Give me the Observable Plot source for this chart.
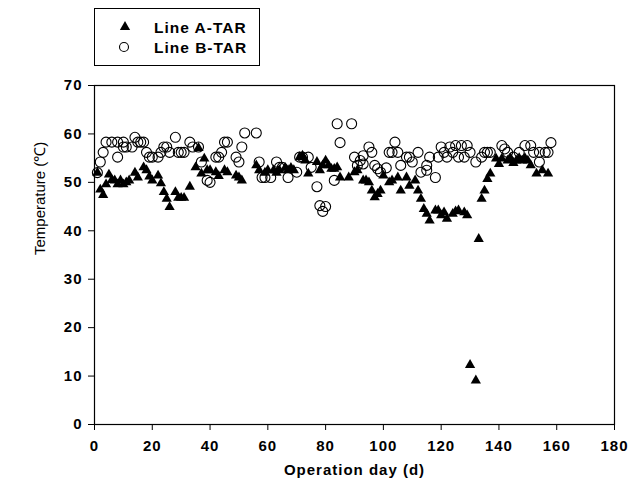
<!DOCTYPE html>
<html><head><meta charset="utf-8">
<script src="https://cdn.jsdelivr.net/npm/d3@7"></script>
<script src="https://cdn.jsdelivr.net/npm/@observablehq/plot@0.6"></script>
<style>
body{margin:0;background:#fff;font-family:"Liberation Sans",Arial,sans-serif}
#wrap{position:relative;width:644px;height:489px}
#legend{position:absolute;left:94px;top:8px}
</style></head><body><div id="wrap"><div id="legend"></div></div>
<script>
const seriesNames = ["Line A-TAR", "Line B-TAR"];
const xTicks = [0, 20, 40, 60, 80, 100, 120, 140, 160, 180];
const yTicks = [0, 10, 20, 30, 40, 50, 60, 70];
const xTitle = "Operation day (d)";
const yTitle = "Temperature (\u2103)";

const daysA = [1,2,3,4,5,6,7,8,9,10,11,12,14,15,17,18,19,20,22,23,24,25,26,28,29,30,31,33,35,36,37,38,39,40,42,43,45,46,49,50,51,56,57,59,60,62,63,64,66,67,68,69,71,72,73,74,77,78,79,80,81,82,83,84,85,88,90,91,93,94,95,96,97,98,99,100,102,103,105,106,108,109,111,112,113,114,115,116,118,119,120,121,122,124,125,126,128,129,130,132,133,134,135,136,137,139,140,141,143,144,145,146,147,148,149,150,151,153,155,157];
const tempA = [52,48.5,47.4,49.6,51.6,50.5,50.4,49.6,50.4,49.6,50,50.4,52,51,53.1,52.5,51.2,50.4,51.4,49.8,48,46.6,44.9,48,46.8,46.8,46.8,49.1,53.1,57.1,51.8,54.9,52.5,52.5,52.1,51.3,52.5,52.1,51.4,51,50.4,53.5,52.5,52,52.5,52.5,52,52.5,53,52.5,53,52.5,55.2,55.5,54.5,51.8,54.2,52.5,53.5,54.5,53.5,52.8,52.8,53.1,51,51,52.1,52.5,50.4,50.4,50,48.3,46.9,47.6,48.3,51.4,50,50.4,51,48.3,51,49.3,50.4,48.3,46.6,44.5,43.5,42.1,44.2,44.2,43.2,43.8,42.5,43.5,44,44.2,43.8,43.2,12.3,9.1,38.3,46.6,48.3,50.7,51.8,54.9,53.8,54.9,54.5,55,54,54.5,55,54.5,55,54.5,53.5,51.8,52.5,51.8];

const daysB = [1,2,3,4,6,8,8,10,10,11,13,14,15,16,17,18,19,20,22,23,24,25,26,28,29,30,31,33,34,36,37,39,40,42,43,44,45,46,49,50,51,52,56,57,58,59,61,63,64,65,67,70,71,72,74,75,77,78,79,80,83,84,85,89,90,91,92,93,93,95,96,97,98,99,101,102,103,104,105,106,108,109,110,112,113,115,115,116,118,119,120,121,122,123,124,125,126,127,128,129,130,132,134,135,136,137,141,142,143,145,147,149,151,152,154,154,156,157,158];
const tempB = [52,54.2,56.2,58.3,58.3,58.3,55.2,58.3,57.3,57.3,57.3,59.3,58.3,58.3,58.3,56.2,55.2,55.2,55.2,56.2,57.3,57.3,56.2,59.3,56.2,56.2,56.2,58.3,57.3,57.3,54.2,50.4,50,55.2,55.2,56.2,58.3,58.3,55.2,54.2,57.3,60.2,60.2,54.2,51,51,51,54.2,53.1,53.1,51,52.1,55.2,55.2,55.2,53.1,49.1,45.2,44,45,50.4,62.1,58.2,62.1,55.2,53.5,54.5,53.8,55.5,57.3,56.2,53.5,52.8,52.1,53,56.2,56.2,58.3,56.2,53.5,55.2,55.2,54.2,56.2,52.1,52.5,53.5,55.2,51,55.2,57.3,56.2,55.2,57.3,56.2,57.6,55.2,57.6,55.2,57.6,56.2,54.2,55.2,56.2,56.2,56.2,57.6,56.9,56.2,55.2,56.2,57.6,57.6,56.2,56.2,54.2,56.2,56.2,58.2];

const dataA = daysA.map((d, i) => ({day: d, temp: tempA[i]}));
const dataB = daysB.map((d, i) => ({day: d, temp: tempB[i]}));

const font = '"Liberation Sans", Arial, sans-serif';
const chart = Plot.plot({
  width: 644, height: 489,
  marginTop: 85, marginLeft: 94, marginRight: 30, marginBottom: 65,
  style: {fontFamily: font, fontSize: "15px", color: "#000", background: "transparent"},
  x: {domain: [0, 180]},
  y: {domain: [0, 70]},
  marks: [
    Plot.frame({stroke: "#000", strokeWidth: 1.2}),
    Plot.axisX({ticks: xTicks, tickSize: 6, tickPadding: 10, fontWeight: "bold", label: null, tickFormat: d => d}),
    Plot.axisY({ticks: yTicks, tickSize: 6, tickPadding: 6, fontWeight: "bold", label: null, tickFormat: d => d}),
    Plot.text([xTitle], {frameAnchor: "bottom", dy: 50, text: d => d, fontWeight: "bold", fontSize: 15}),
    Plot.text([yTitle], {frameAnchor: "left", dx: -54, rotate: -90, text: d => d, fontSize: 15}),
    Plot.dot(dataB, {x: "day", y: "temp", symbol: "circle", r: 5, stroke: "#000", strokeWidth: 1.1, fill: "none"}),
    Plot.dot(dataA, {x: "day", y: "temp", symbol: "triangle", r: 3.8, fill: "#000", stroke: "none"})
  ]
});
document.getElementById("wrap").prepend(chart);
d3.select(chart).selectAll("text").each(function() {
  const t = this.textContent;
  if (t.indexOf("Temperature") < 0) d3.select(this).style("letter-spacing", "1px");
});

// legend
const lg = d3.select("#legend").append("svg").attr("width", 166).attr("height", 59);
lg.append("rect").attr("x", 0.5).attr("y", 0.5).attr("width", 165).attr("height", 57).attr("fill", "#fff").attr("stroke", "#000");
const tri = d3.symbol(d3.symbolTriangle, Math.PI * 3.8 * 3.8)();
lg.append("path").attr("d", tri).attr("transform", "translate(31,19)").attr("fill", "#000");
lg.append("circle").attr("cx", 30).attr("cy", 39).attr("r", 4.5).attr("fill", "none").attr("stroke", "#000").attr("stroke-width", 1.1);
seriesNames.forEach((s, i) => {
  lg.append("text").attr("x", 60).attr("y", 25 + i * 20).attr("font-family", font).attr("font-size", 15.5)
    .attr("font-weight", "bold").style("letter-spacing", "1px").text(s);
});
</script></body></html>
